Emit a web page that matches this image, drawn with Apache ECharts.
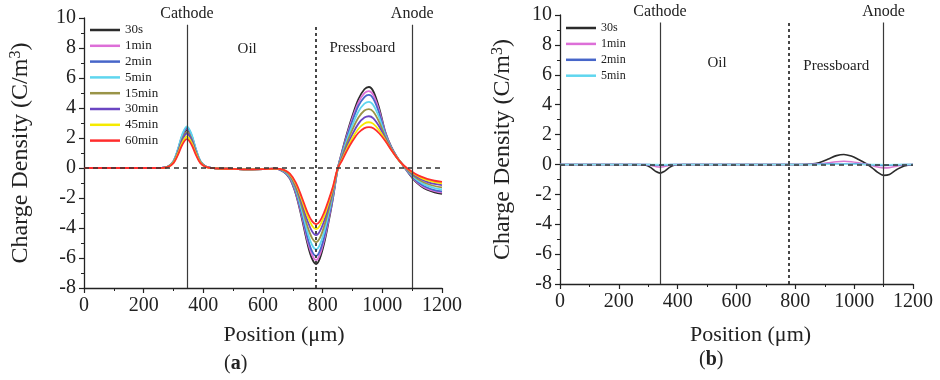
<!DOCTYPE html>
<html>
<head>
<meta charset="utf-8">
<script src="https://cdn.jsdelivr.net/npm/echarts@6/dist/echarts.min.js"></script>
<style>
  html, body { margin: 0; padding: 0; background: #fff; }
  #chart { width: 940px; height: 380px; }
</style>
</head>
<body>
<div id="chart"></div>
<script>
// Panel (a): space-charge density profiles after polarity reversal, 30 s .. 60 min
const positionA = [0, 50, 100, 150, 200, 250, 280, 300, 315, 330, 345, 360, 375, 390, 410, 440, 500, 550, 600, 640,
  670, 690, 710, 730, 750, 765, 778, 790, 805, 820, 835, 850, 865, 880, 900, 920, 940, 955, 970, 990,
  1010, 1030, 1050, 1070, 1090, 1110, 1130, 1150, 1175, 1200];

const a30s = [0, 0, 0, 0, 0, 0, 0.08, 0.43, 1.17, 2.09, 2.55, 2.09, 1.17, 0.43, 0.08, -0.02, -0.06, -0.09, -0.08, -0.04,
  -0.26, -0.70, -1.73, -3.33, -5.12, -6.08, -6.4, -6.06, -5.02, -3.58, -1.97, -0.1, 1.1, 2.2, 3.5, 4.6, 5.25, 5.4, 5.1, 3.95,
  2.4, 1.4, 0.7, 0.15, -0.4, -0.88, -1.22, -1.45, -1.62, -1.72];
const a1min = [0, 0, 0, 0, 0, 0, 0.08, 0.45, 1.22, 2.17, 2.65, 2.17, 1.22, 0.45, 0.08, -0.02, -0.06, -0.09, -0.08, -0.04,
  -0.25, -0.67, -1.66, -3.19, -4.91, -5.83, -6.14, -5.81, -4.81, -3.44, -1.89, -0.10, 1.04, 2.09, 3.33, 4.38, 4.99, 5.13, 4.86, 3.79,
  2.34, 1.38, 0.70, 0.16, -0.37, -0.83, -1.16, -1.38, -1.54, -1.64];
const a2min = [0, 0, 0, 0, 0, 0, 0.08, 0.46, 1.24, 2.21, 2.7, 2.21, 1.24, 0.46, 0.08, -0.02, -0.06, -0.09, -0.08, -0.04,
  -0.23, -0.64, -1.58, -3.05, -4.70, -5.58, -5.87, -5.56, -4.61, -3.29, -1.82, -0.09, 0.98, 1.98, 3.16, 4.15, 4.73, 4.87, 4.61, 3.62,
  2.28, 1.36, 0.69, 0.16, -0.34, -0.78, -1.09, -1.30, -1.47, -1.56];
const a5min = [0, 0, 0, 0, 0, 0, 0.08, 0.47, 1.28, 2.28, 2.78, 2.28, 1.28, 0.47, 0.08, -0.02, -0.06, -0.09, -0.08, -0.04,
  -0.21, -0.58, -1.45, -2.82, -4.34, -5.15, -5.42, -5.14, -4.26, -3.04, -1.69, -0.08, 0.88, 1.79, 2.87, 3.77, 4.29, 4.41, 4.19, 3.34,
  2.18, 1.33, 0.68, 0.17, -0.30, -0.70, -0.98, -1.18, -1.34, -1.43];
const a15min = [0, 0, 0, 0, 0, 0, 0.07, 0.41, 1.10, 1.97, 2.4, 1.97, 1.10, 0.41, 0.07, -0.02, -0.06, -0.09, -0.08, -0.04,
  -0.18, -0.52, -1.32, -2.57, -3.95, -4.69, -4.94, -4.69, -3.89, -2.78, -1.55, -0.07, 0.77, 1.60, 2.57, 3.36, 3.83, 3.93, 3.75, 3.04,
  2.07, 1.29, 0.67, 0.18, -0.25, -0.61, -0.87, -1.05, -1.20, -1.29];
const a30min = [0, 0, 0, 0, 0, 0, 0.07, 0.39, 1.06, 1.89, 2.3, 1.89, 1.06, 0.39, 0.07, -0.02, -0.06, -0.09, -0.08, -0.04,
  -0.16, -0.47, -1.18, -2.32, -3.57, -4.24, -4.47, -4.24, -3.52, -2.52, -1.41, -0.06, 0.66, 1.40, 2.26, 2.96, 3.36, 3.45, 3.31, 2.75,
  1.96, 1.25, 0.66, 0.19, -0.20, -0.52, -0.75, -0.92, -1.06, -1.14];
const a45min = [0, 0, 0, 0, 0, 0, 0.06, 0.36, 0.97, 1.72, 2.1, 1.72, 0.97, 0.36, 0.06, -0.02, -0.06, -0.09, -0.08, -0.04,
  -0.14, -0.42, -1.07, -2.12, -3.25, -3.86, -4.07, -3.86, -3.21, -2.30, -1.29, -0.06, 0.57, 1.23, 2.00, 2.62, 2.97, 3.05, 2.94, 2.50,
  1.87, 1.22, 0.66, 0.19, -0.15, -0.44, -0.66, -0.81, -0.94, -1.02];
const a60min = [0, 0, 0, 0, 0, 0, 0.06, 0.33, 0.88, 1.57, 1.92, 1.57, 0.88, 0.33, 0.06, -0.02, -0.06, -0.09, -0.08, -0.04,
  -0.12, -0.38, -0.98, -1.95, -3.0, -3.56, -3.75, -3.56, -2.96, -2.13, -1.2, -0.05, 0.5, 1.1, 1.8, 2.35, 2.66, 2.73, 2.65, 2.3,
  1.8, 1.2, 0.65, 0.2, -0.12, -0.38, -0.58, -0.72, -0.85, -0.93];

// Panel (b): profiles for the first minutes
const positionB = [0, 100, 200, 260, 290, 310, 325, 340, 355, 370, 390, 420, 500, 600, 700, 780, 820, 850, 880, 910,
  940, 965, 990, 1015, 1040, 1060, 1080, 1100, 1120, 1145, 1170, 1200];
const b30s = [0, 0, 0, 0, -0.04, -0.23, -0.46, -0.58, -0.46, -0.23, -0.04, 0, 0, 0, 0, 0, 0, 0.03, 0.12, 0.34,
  0.59, 0.67, 0.56, 0.33, 0.06, -0.21, -0.53, -0.73, -0.67, -0.34, -0.10, -0.01];
const b1min = [0, 0, 0, 0, -0.01, -0.07, -0.14, -0.18, -0.14, -0.07, -0.01, 0, 0, 0, 0, 0, 0, 0.01, 0.04, 0.11,
  0.18, 0.21, 0.18, 0.11, 0.02, -0.07, -0.17, -0.23, -0.21, -0.11, -0.03, 0];
const b2min = [0, 0, 0, 0, 0, -0.02, -0.04, -0.05, -0.04, -0.02, 0, 0, 0, 0, 0, 0, 0, 0, 0.01, 0.03,
  0.05, 0.05, 0.04, 0.03, 0, -0.02, -0.04, -0.06, -0.05, -0.03, -0.01, 0];
const b5min = [0, 0, 0, 0, 0, -0.01, -0.01, -0.02, -0.01, -0.01, 0, 0, 0, 0, 0, 0, 0, 0, 0, 0.01,
  0.02, 0.02, 0.02, 0.01, 0, -0.01, -0.01, -0.02, -0.02, -0.01, 0, 0];

const timeLabelsA = ['30s', '1min', '2min', '5min', '15min', '30min', '45min', '60min'];
const timeLabelsB = ['30s', '1min', '2min', '5min'];
const colorsA = ['#2b2b2b', '#dd6fd8', '#4766c9', '#5fd6ef', '#9a9448', '#6b46c2', '#f5ea00', '#ff2d2d'];
const colorsB = ['#2b2b2b', '#d77ad0', '#3c5fcc', '#86e0f0'];

// Electrode and interface positions (µm)
const cathodeA = 345, interfaceA = 778, anodeA = 1100;
const cathodeB = 340, interfaceB = 776, anodeB = 1100;

const SERIF = '"Liberation Serif", "Times New Roman", serif';
const valuesA = [a30s, a1min, a2min, a5min, a15min, a30min, a45min, a60min];
const valuesB = [b30s, b1min, b2min, b5min];

const toPairs = (xs, ys) => xs.map((x, i) => [x, ys[i]]);

function xAxisFor(gridIndex, padLeft, gap) {
  return {
    type: 'value', gridIndex, min: 0, max: 1200, interval: 200,
    name: 'Position (\u03bcm)', nameLocation: 'middle', nameGap: gap,
    nameTextStyle: { fontFamily: SERIF, fontSize: 22, color: '#222', padding: [0, 0, 0, padLeft] },
    axisLine: { show: true, onZero: false, lineStyle: { color: '#222', width: 1.3 } },
    axisTick: { show: true, length: 5, lineStyle: { color: '#222', width: 1.2 } },
    minorTick: { show: true, splitNumber: 2, length: 3, lineStyle: { color: '#222', width: 1 } },
    axisLabel: { fontFamily: SERIF, fontSize: 20, color: '#222', margin: 8, formatter: v => String(v) },
    splitLine: { show: false }
  };
}
function yAxisFor(gridIndex, gap) {
  return {
    type: 'value', gridIndex, min: -8, max: 10, interval: 2,
    name: '{t|Charge Density (C/m}{s|3}{t|)}', nameLocation: 'middle', nameGap: gap,
    nameTextStyle: { rich: {
      t: { fontFamily: SERIF, fontSize: 24, color: '#222' },
      s: { fontFamily: SERIF, fontSize: 16, color: '#222', verticalAlign: 'top', padding: [0, 0, 10, 0] }
    } },
    axisLine: { show: true, onZero: false, lineStyle: { color: '#222', width: 1.3 } },
    axisTick: { show: true, length: 5, lineStyle: { color: '#222', width: 1.2 } },
    minorTick: { show: true, splitNumber: 2, length: 3, lineStyle: { color: '#222', width: 1 } },
    axisLabel: { fontFamily: SERIF, fontSize: 20, color: '#222', margin: 8, formatter: v => String(v) },
    splitLine: { show: false }
  };
}

function guides(axisIndex, cathode, iface, anode, topVal, regionMarks) {
  const solid = { type: 'solid', color: '#3a3a3a', width: 1.2 };
  const edgeLabel = (txt) => ({ show: true, position: 'end', distance: 3, formatter: txt,
    fontFamily: SERIF, fontSize: 16, color: '#222' });
  return {
    type: 'line', name: 'guides' + axisIndex, xAxisIndex: axisIndex, yAxisIndex: axisIndex,
    data: [], silent: true, z: 10,
    markLine: {
      silent: true, symbol: ['none', 'none'], animation: false,
      data: [
        { yAxis: 0, lineStyle: { type: [5, 4], color: '#333', width: 1.5 }, label: { show: false } },
        [{ coord: [cathode, -8], lineStyle: solid, label: edgeLabel('Cathode') }, { coord: [cathode, topVal] }],
        [{ coord: [iface, -8], lineStyle: { type: [3, 3], color: '#333', width: 1.8 }, label: { show: false } }, { coord: [iface, topVal] }],
        [{ coord: [anode, -8], lineStyle: solid, label: edgeLabel('Anode') }, { coord: [anode, topVal] }]
      ]
    },
    markPoint: {
      silent: true, symbol: 'circle', symbolSize: 1, animation: false,
      itemStyle: { color: 'rgba(0,0,0,0)' },
      label: { show: true, position: 'inside', formatter: '{b}', fontFamily: SERIF, fontSize: 15, color: '#222' },
      data: regionMarks
    }
  };
}

const series = [];
timeLabelsA.forEach((name, i) => series.push({
  type: 'line', name, xAxisIndex: 0, yAxisIndex: 0, data: toPairs(positionA, valuesA[i]),
  smooth: 0.35, symbol: 'none', color: colorsA[i], lineStyle: { width: 1.8 }, z: 3
}));
timeLabelsB.forEach((name, i) => series.push({
  type: 'line', name, xAxisIndex: 1, yAxisIndex: 1, data: toPairs(positionB, valuesB[i]),
  smooth: 0.35, symbol: 'none', color: colorsB[i], lineStyle: { width: 1.6 }, z: 3
}));
series.push(guides(0, cathodeA, interfaceA, anodeA, 9.55,
  [{ name: 'Oil', coord: [547, 7.9] }, { name: 'Pressboard', coord: [933, 8.0] }]));
series.push(guides(1, cathodeB, interfaceB, anodeB, 9.5,
  [{ name: 'Oil', coord: [534, 6.8] }, { name: 'Pressboard', coord: [939, 6.6] }]));

const chart = echarts.init(document.getElementById('chart'), null, { renderer: 'canvas' });
chart.setOption({
  animation: false,
  backgroundColor: '#fff',
  grid: [
    { left: 84, top: 18, width: 358, height: 270 },
    { left: 560, top: 15, width: 353, height: 269 }
  ],
  xAxis: [xAxisFor(0, 42, 36), xAxisFor(1, 28, 40)],
  yAxis: [yAxisFor(0, 50), yAxisFor(1, 44)],
  legend: [
    { data: timeLabelsA, orient: 'vertical', left: 90, top: 23, padding: 0, icon: 'rect', itemWidth: 30, itemHeight: 2.5, itemGap: 1.8,
      textStyle: { fontFamily: SERIF, fontSize: 13, color: '#222', lineHeight: 14 }, selectedMode: false },
    { data: timeLabelsB, orient: 'vertical', left: 566, top: 21, padding: 0, icon: 'rect', itemWidth: 30, itemHeight: 2.5, itemGap: 1.9,
      textStyle: { fontFamily: SERIF, fontSize: 12, color: '#222', lineHeight: 14 }, selectedMode: false }
  ],
  graphic: [
    { type: 'text', left: 224, top: 354, style: { text: '({b|a})', fontFamily: SERIF, fontSize: 20, fill: '#222',
      rich: { b: { fontFamily: SERIF, fontSize: 20, fontWeight: 'bold', color: '#222' } } } },
    { type: 'text', left: 699, top: 350, style: { text: '({b|b})', fontFamily: SERIF, fontSize: 20, fill: '#222',
      rich: { b: { fontFamily: SERIF, fontSize: 20, fontWeight: 'bold', color: '#222' } } } }
  ],
  series
});
</script>
</body>
</html>
